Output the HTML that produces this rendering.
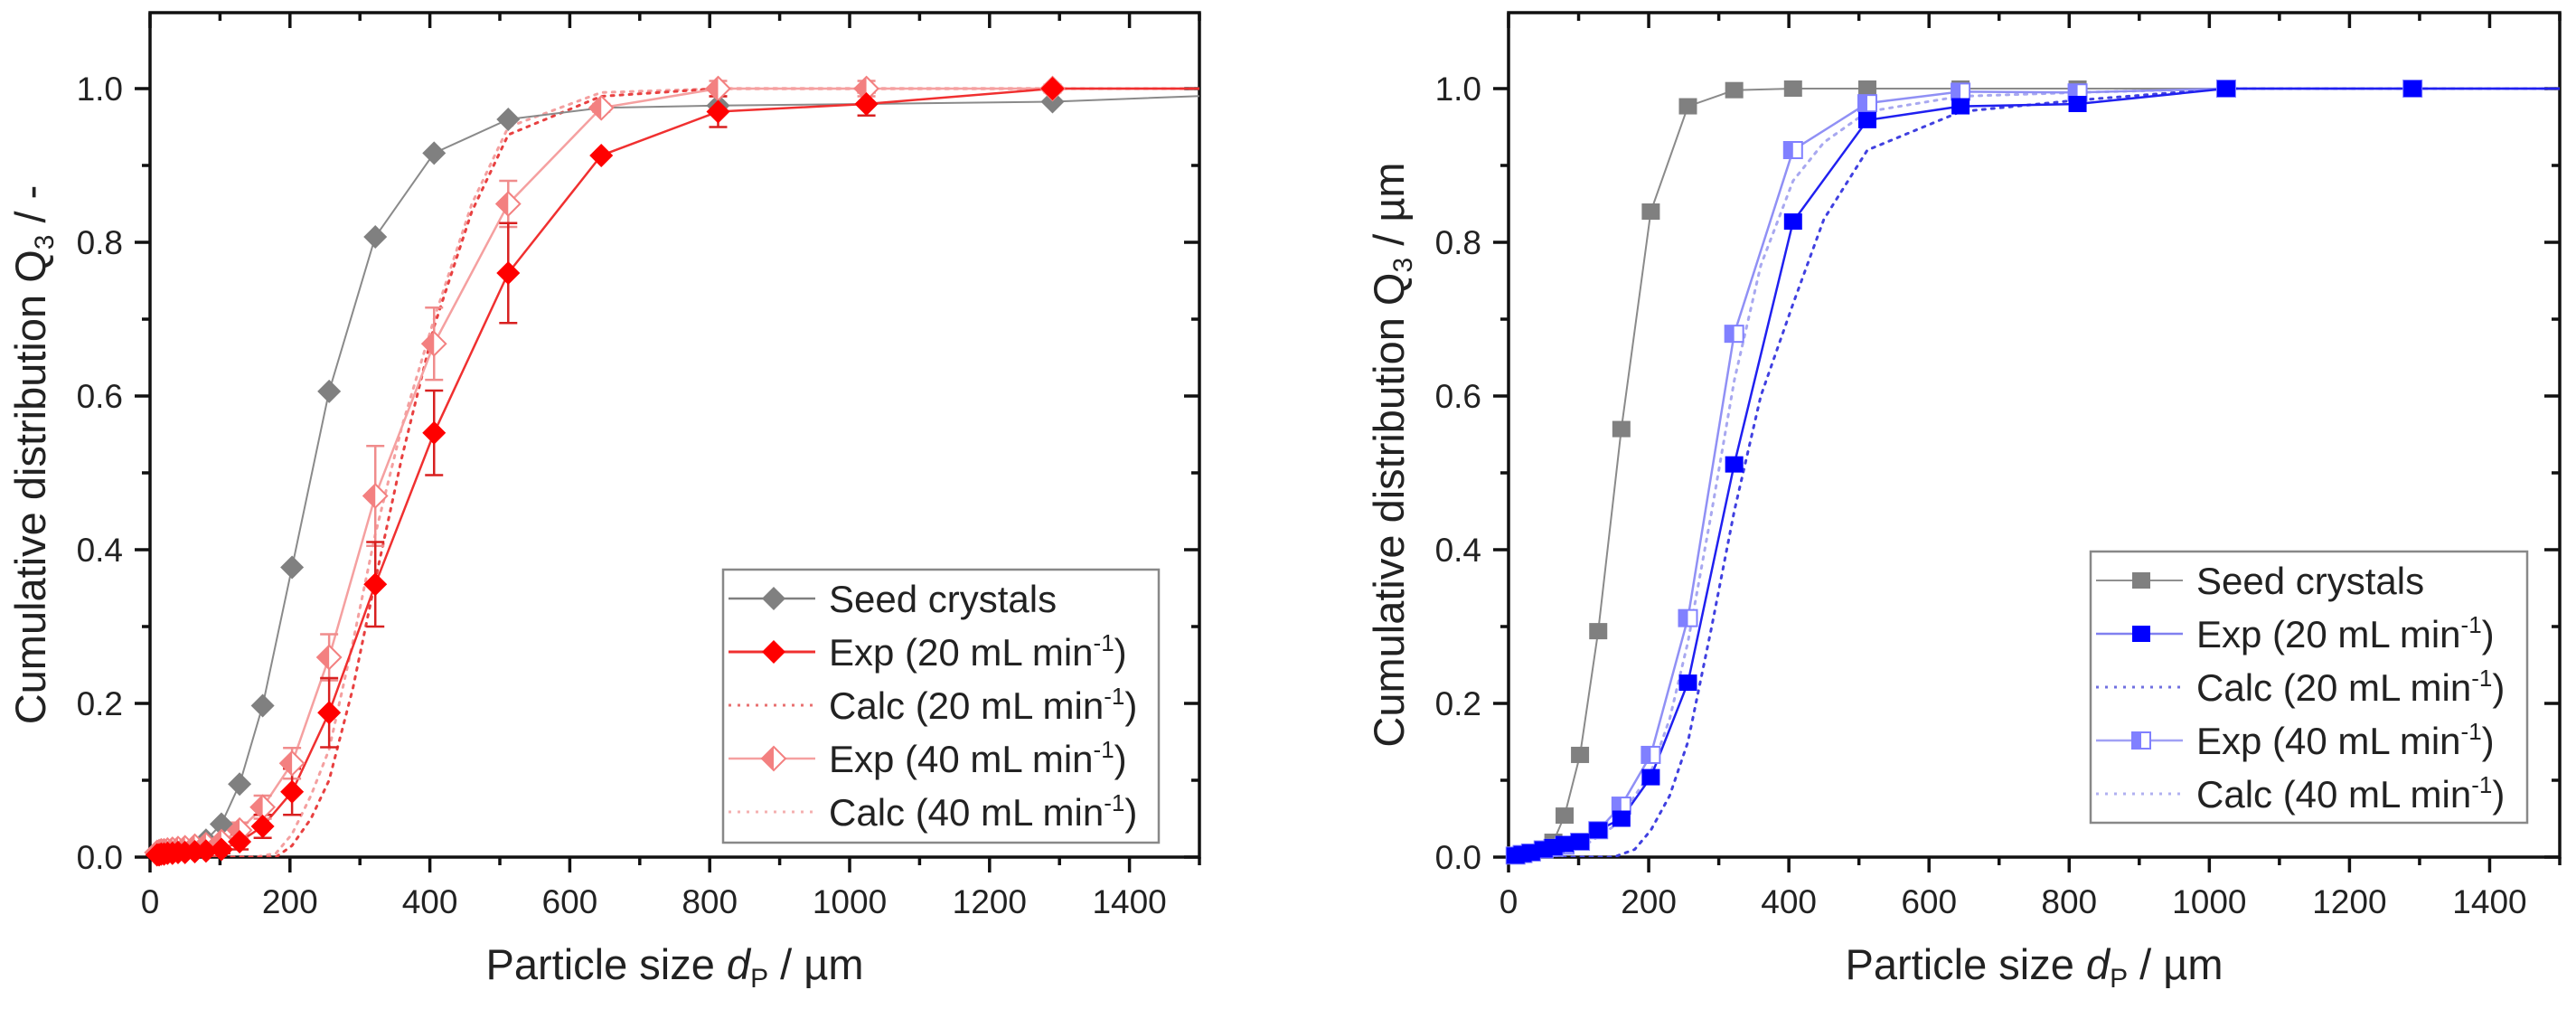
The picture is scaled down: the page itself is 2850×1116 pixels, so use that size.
<!DOCTYPE html>
<html><head><meta charset="utf-8"><style>
html,body{margin:0;padding:0;background:#fff}
svg{display:block}
text{font-family:"Liberation Sans",Arial,sans-serif;fill:#222}
</style></head><body>
<svg id="fig" width="2850" height="1116" viewBox="0 0 2850 1116" xmlns="http://www.w3.org/2000/svg">
<defs>
<clipPath id="clipL"><rect x="166" y="14" width="1161" height="934"/></clipPath>
<clipPath id="clipR"><rect x="1669" y="14" width="1163" height="934"/></clipPath>
</defs>
<g id="left"></g>
<g id="right"></g>
</svg>
<script>
// ---- data ----
const xTicks = [0,200,400,600,800,1000,1200,1400];
const yTicks = [0,0.2,0.4,0.6,0.8,1.0];
const yTickLabels = ["0.0","0.2","0.4","0.6","0.8","1.0"];
const bins = [10,13,16,20,25,32,40,50,64,80,102,128,161,203,256,322,406,512,645,812,1024,1290,1630];
const seedL = [0.005,0.005,0.006,0.006,0.007,0.008,0.009,0.011,0.015,0.022,0.043,0.095,0.197,0.377,0.606,0.807,0.916,0.960,0.975,0.978,0.980,0.983,0.995];
const exp20L = [0.003,0.003,0.004,0.004,0.005,0.005,0.006,0.006,0.007,0.008,0.010,0.020,0.040,0.085,0.188,0.355,0.552,0.760,0.913,0.970,0.980,1.0,1.0];
const err20L = [0,0,0,0,0,0,0,0,0,0,0.005,0.01,0.015,0.03,0.045,0.055,0.055,0.065,0,0.02,0.015,0,0];
const exp40L = [0.006,0.007,0.008,0.008,0.009,0.010,0.011,0.012,0.014,0.016,0.020,0.035,0.065,0.122,0.260,0.470,0.668,0.850,0.975,1.0,1.0,1.0,1.0];
const err40L = [0,0,0,0,0,0,0,0,0,0,0.005,0.01,0.015,0.02,0.03,0.065,0.047,0.03,0.005,0.01,0.01,0.005,0];
const calcX20L = [0,100,150,180,203,230,256,290,322,360,406,460,512,645,812,1024,1630];
const calc20L = [0,0,0,0,0.015,0.05,0.10,0.22,0.36,0.52,0.69,0.84,0.94,0.99,1.0,1.0,1.0];
const calcX40L = [0,100,150,180,203,230,256,290,322,360,406,460,512,645,812,1024,1630];
const calc40L = [0,0,0,0.005,0.03,0.08,0.14,0.28,0.42,0.56,0.70,0.85,0.95,0.995,1.0,1.0,1.0];

const binsR = [10,20,32,50,64,80,102,128,161,203,256,322,406,512,645,812,1024,1290,1630];
const seedR = [0.002,0.004,0.006,0.010,0.020,0.054,0.133,0.294,0.557,0.840,0.977,0.998,1.0,1.0,1.0,1.0,1.0,1.0,1.0];
const exp20R = [0.002,0.004,0.006,0.010,0.013,0.017,0.020,0.035,0.050,0.104,0.227,0.511,0.827,0.959,0.977,0.980,1.0,1.0,1.0];
const exp40R = [0.002,0.004,0.006,0.010,0.012,0.015,0.020,0.035,0.067,0.133,0.311,0.681,0.920,0.981,0.996,0.995,1.0,1.0,1.0];
const calcX20R = [0,100,150,180,203,230,256,290,322,360,406,450,512,645,812,1024,1630];
const calc20R = [0,0,0,0.01,0.035,0.08,0.15,0.30,0.45,0.60,0.72,0.83,0.92,0.97,0.985,1.0,1.0];
const calcX40R = [0,50,100,150,203,230,256,290,322,360,406,450,512,645,812,1024,1630];
const calc40R = [0,0.003,0.01,0.04,0.11,0.18,0.28,0.45,0.62,0.77,0.88,0.93,0.97,0.99,0.995,1.0,1.0];

const NS = "http://www.w3.org/2000/svg";
function mk(tag, attrs, parent){
  const e = document.createElementNS(NS, tag);
  for (const k in attrs) e.setAttribute(k, attrs[k]);
  parent.appendChild(e);
  return e;
}
function makeAxes(g, x0, x1, yTitle){
  const y0 = 948, yTop = 14;
  const sx = v => x0 + (x1 - x0) * v / 1500;
  const sy = v => y0 - 850 * v;
  const frame = mk("rect",{x:x0,y:yTop,width:x1-x0,height:y0-yTop,fill:"none",stroke:"#111","stroke-width":3.5},g);
  
  
  for (let v=0; v<=1500; v+=100){
    const major = v % 200 === 0;
    const L = major ? 17 : 9;
    const t = mk("line",{x1:sx(v),x2:sx(v),y1:y0,y2:y0+L,stroke:"#111","stroke-width":3.5},g);
    
    
    const t2 = mk("line",{x1:sx(v),x2:sx(v),y1:yTop,y2:yTop+L,stroke:"#111","stroke-width":3.5},g);
    
    
  }
  xTicks.forEach(v=>{
    const t = mk("text",{x:sx(v),y:1010,"text-anchor":"middle","font-size":37},g);
    t.textContent = String(v);
    
    
  });
  for (let i=0;i<=10;i++){
    const v = i/10, major = i%2===0, L = major?17:9;
    const t = mk("line",{x1:x0-L,x2:x0,y1:sy(v),y2:sy(v),stroke:"#111","stroke-width":3.5},g);
    
    
    const t2 = mk("line",{x1:x1-L,x2:x1,y1:sy(v),y2:sy(v),stroke:"#111","stroke-width":3.5},g);
    
    
  }
  yTicks.forEach((v,i)=>{
    const t = mk("text",{x:x0-30,y:sy(v)+13,"text-anchor":"end","font-size":37},g);
    t.textContent = yTickLabels[i];
    
    
  });
  const xt = mk("text",{x:(x0+x1)/2,y:1083,"text-anchor":"middle","font-size":47},g);
  xt.innerHTML = 'Particle size <tspan font-style="italic">d</tspan><tspan font-size="30" dy="9">P</tspan><tspan dy="-9"> / µm</tspan>';
  
  
  const yt = mk("text",{x:0,y:0,"text-anchor":"middle","font-size":47,transform:`translate(${x0-116},503) rotate(-90)`},g);
  yt.innerHTML = 'Cumulative distribution Q<tspan font-size="30" dy="9">3</tspan><tspan dy="-9"> / '+yTitle+'</tspan>';
  
  
  return {sx, sy};
}
function line(g, xs, ys, sx, sy, color, w, dash, clip, name){
  const pts = xs.map((x,i)=>sx(x).toFixed(1)+","+sy(ys[i]).toFixed(1)).join(" ");
  const p = mk("polyline",{points:pts,fill:"none",stroke:color,"stroke-width":w,"clip-path":"url(#"+clip+")"},g);
  if (dash) { p.setAttribute("stroke-dasharray",dash); p.setAttribute("stroke-linecap","round"); }
  
  
}
function diamond(g,cx,cy,fill,half,name){
  const r=13;
  if(!half){
    const d = mk("polygon",{points:`${cx},${cy-r} ${cx+r},${cy} ${cx},${cy+r} ${cx-r},${cy}`,fill:fill},g);
    
    
  } else {
    const gg = mk("g",{},g);
    
    
    mk("polygon",{points:`${cx},${cy-r} ${cx+r},${cy} ${cx},${cy+r} ${cx-r},${cy}`,fill:"#fff",stroke:fill,"stroke-width":2},gg);
    mk("polygon",{points:`${cx},${cy-r} ${cx},${cy+r} ${cx-r},${cy}`,fill:fill},gg);
  }
}
function square(g,cx,cy,fill,half,name){
  const w=10,h=9;
  if(!half){
    const s = mk("rect",{x:cx-w,y:cy-h,width:2*w,height:2*h,fill:fill},g);
    
    
  } else {
    const gg = mk("g",{},g);
    
    
    mk("rect",{x:cx-w,y:cy-h,width:2*w,height:2*h,fill:"#fff",stroke:fill,"stroke-width":2},gg);
    mk("rect",{x:cx-w,y:cy-h,width:w,height:2*h,fill:fill},gg);
  }
}
function errbars(g,xs,ys,es,sx,sy,color,name){
  xs.forEach((x,i)=>{
    if(!es[i]||x>1500) return;
    const cx=sx(x), a=sy(ys[i]-es[i]), b=sy(ys[i]+es[i]);
    const gg = mk("g",{stroke:color,"stroke-width":2.5},g);
    
    
    mk("line",{x1:cx,x2:cx,y1:a,y2:b},gg);
    mk("line",{x1:cx-10,x2:cx+10,y1:a,y2:a},gg);
    mk("line",{x1:cx-10,x2:cx+10,y1:b,y2:b},gg);
  });
}
function legend(g,x,y,w,h,items){
  const box = mk("rect",{x:x,y:y,width:w,height:h,fill:"#fff",stroke:"#888","stroke-width":2.5},g);
  
  
  items.forEach((it,i)=>{
    const cy = y+32+i*59;
    const eg = mk("g",{},g);
    
    
    const ln = mk("line",{x1:x+6,x2:x+102,y1:cy,y2:cy,stroke:it.color,"stroke-width":it.w},eg);
    if(it.dash) ln.setAttribute("stroke-dasharray",it.dash);
    if(it.marker) it.marker(eg,x+56,cy);
    const t = mk("text",{x:x+117,y:cy+15,"font-size":42},eg);
    t.innerHTML = it.label;
  });
}
const sup = n => `Exp (${n} mL min<tspan font-size="26" dy="-16">-1</tspan><tspan dy="16">)</tspan>`;
const supC = n => `Calc (${n} mL min<tspan font-size="26" dy="-16">-1</tspan><tspan dy="16">)</tspan>`;

// LEFT
const gL = document.getElementById("left");
const AL = makeAxes(gL,166,1327,"-");
line(gL,calcX40L,calc40L,AL.sx,AL.sy,"#f4a0a0",3,"3 7","clipL","calc-40-line");
line(gL,calcX20L,calc20L,AL.sx,AL.sy,"#e84040",3,"3 7","clipL","calc-20-line");
line(gL,bins,seedL,AL.sx,AL.sy,"#8a8a8a",2,null,"clipL","seed-line");
line(gL,bins,exp40L,AL.sx,AL.sy,"#f5a0a0",2.5,null,"clipL","exp-40-line");
line(gL,bins,exp20L,AL.sx,AL.sy,"#f03030",2.5,null,"clipL","exp-20-line");
errbars(gL,bins,exp40L,err40L,AL.sx,AL.sy,"#f08c8c","exp-40-errorbar");
errbars(gL,bins,exp20L,err20L,AL.sx,AL.sy,"#d82020","exp-20-errorbar");
bins.forEach((x,i)=>{ if(x<=1500) diamond(gL,AL.sx(x),AL.sy(seedL[i]),"#808080",false,"seed-marker"); });
bins.forEach((x,i)=>{ if(x<=1500) diamond(gL,AL.sx(x),AL.sy(exp40L[i]),"#f38080",true,"exp-40-marker"); });
bins.forEach((x,i)=>{ if(x<=1500) diamond(gL,AL.sx(x),AL.sy(exp20L[i]),"#ff0000",false,"exp-20-marker"); });
legend(gL,800,630,482,302,[
  {label:"Seed crystals",color:"#808080",w:2.5,marker:(g,x,y)=>diamond(g,x,y,"#808080",false,"legend-marker")},
  {label:sup(20),color:"#f03030",w:3,marker:(g,x,y)=>diamond(g,x,y,"#ff0000",false,"legend-marker")},
  {label:supC(20),color:"#e87070",w:3,dash:"3 7"},
  {label:sup(40),color:"#f5a0a0",w:2.5,marker:(g,x,y)=>diamond(g,x,y,"#f38080",true,"legend-marker")},
  {label:supC(40),color:"#f4b0b0",w:3,dash:"3 7"}
]);

// RIGHT
const gR = document.getElementById("right");
const AR = makeAxes(gR,1669,2832,"µm");
line(gR,calcX40R,calc40R,AR.sx,AR.sy,"#a8a8f0",3,"3 7","clipR","calc-40-line");
line(gR,calcX20R,calc20R,AR.sx,AR.sy,"#4040e0",3,"3 7","clipR","calc-20-line");
line(gR,binsR,seedR,AR.sx,AR.sy,"#8a8a8a",2,null,"clipR","seed-line");
line(gR,binsR,exp40R,AR.sx,AR.sy,"#9090f5",2.5,null,"clipR","exp-40-line");
line(gR,binsR,exp20R,AR.sx,AR.sy,"#2020f0",2.5,null,"clipR","exp-20-line");
binsR.forEach((x,i)=>{ if(x<=1500) square(gR,AR.sx(x),AR.sy(seedR[i]),"#808080",false,"seed-marker"); });
binsR.forEach((x,i)=>{ if(x<=1500) square(gR,AR.sx(x),AR.sy(exp40R[i]),"#8080ff",true,"exp-40-marker"); });
binsR.forEach((x,i)=>{ if(x<=1500) square(gR,AR.sx(x),AR.sy(exp20R[i]),"#0000ff",false,"exp-20-marker"); });
legend(gR,2313,610,483,300,[
  {label:"Seed crystals",color:"#909090",w:2,marker:(g,x,y)=>square(g,x,y,"#808080",false,"legend-marker")},
  {label:sup(20),color:"#8080f0",w:2.5,marker:(g,x,y)=>square(g,x,y,"#0000ff",false,"legend-marker")},
  {label:supC(20),color:"#7070e0",w:3,dash:"3 7"},
  {label:sup(40),color:"#a0a0f5",w:2.5,marker:(g,x,y)=>square(g,x,y,"#8080ff",true,"legend-marker")},
  {label:supC(40),color:"#b0b0f0",w:3,dash:"3 7"}
]);
</script>
</body></html>
